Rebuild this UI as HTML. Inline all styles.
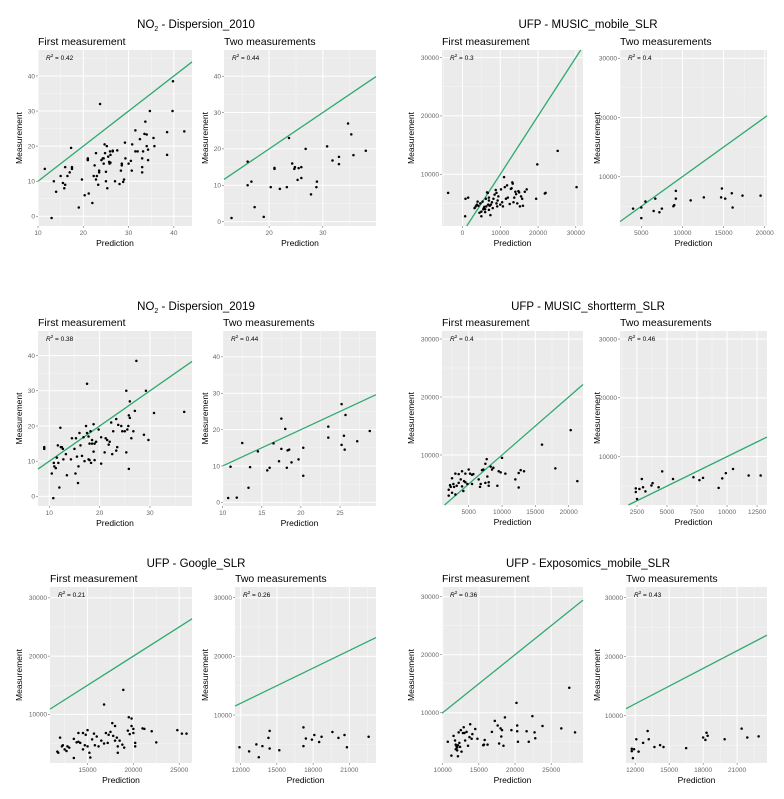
<!DOCTYPE html>
<html><head><meta charset="utf-8"><style>
html,body{margin:0;padding:0;background:#fff;}
svg{display:block;font-family:"Liberation Sans",sans-serif;}
</style></head><body>
<svg id="fig" width="784" height="799" viewBox="0 0 784 799" xmlns="http://www.w3.org/2000/svg">
<text x="196" y="28" text-anchor="middle" font-size="11.5" fill="#000">NO<tspan font-size="7" dy="3">2</tspan><tspan dy="-3"> - Dispersion_2010</tspan></text>
<text x="588" y="28" text-anchor="middle" font-size="11.5" fill="#000">UFP - MUSIC_mobile_SLR</text>
<text x="196" y="310" text-anchor="middle" font-size="11.5" fill="#000">NO<tspan font-size="7" dy="3">2</tspan><tspan dy="-3"> - Dispersion_2019</tspan></text>
<text x="588" y="310" text-anchor="middle" font-size="11.5" fill="#000">UFP - MUSIC_shortterm_SLR</text>
<text x="196" y="567" text-anchor="middle" font-size="11.5" fill="#000">UFP - Google_SLR</text>
<text x="588" y="567" text-anchor="middle" font-size="11.5" fill="#000">UFP - Exposomics_mobile_SLR</text>
</svg>
<script>
const A1x=[11.5,13,13.5,14,15,15.5,15.8,16,16,16.5,17,17.3,17.5,17.5,19,19.7,20.3,21,21,21.2,22,22.3,22.5,22.8,22.8,23,23.3,23.5,23.5,23.7,24,24.3,24.5,24.7,24.8,25,25,25.2,25.3,25.5,25.7,25.8,25.9,26,26,26.5,27,27.5,28,28.3,28.5,28.5,28.8,29,29.2,29.3,30,30.5,30.7,30.8,31.5,31.5,32,32.5,33,33,33.2,33.5,33.7,34,34,34.3,34.3,34.7,35.5,35.7,38.5,38.5,39.7,39.8,42.3,33,26.5,24.5,21];
const A1y=[13.5,-0.5,10,7,11.5,9.5,8,9,14,11.5,12.5,19.5,14,13.5,2.5,10.5,6,16.5,16,6.5,3.8,11.5,14.5,18,10.5,11.5,9,13,12.5,32,16,16.5,15,20.5,18,10,12.7,20,8,17,15.5,15,18.5,15.3,17.5,18.5,10,18.8,9.2,13,15,14.5,9.8,10.5,21,16.5,15,15.8,13,20.5,24.5,18.5,18.5,22,12.5,14,18.5,23.5,27,23.3,20,16,19,30,22.3,20,24,17.5,30,38.5,24.2,16.5,18.7,16.5,16.2];
const A2x=[13,16,16,16.7,17.3,19,20.3,21,21,22,23.3,23.7,24.3,24.7,24.8,25.3,25.5,26,26,26.8,27.8,28.8,28.9,30.8,31.8,33,33,34.7,35.3,35.7,38];
const A2y=[1,10,16.5,11,4,1.3,9.5,14.5,14.8,9,9.5,23,16,14.5,15,11.5,14.7,15,12,20,7.5,9.5,11,20.7,16.8,17.8,15.8,27,24,18.3,19.5];
const B1x=[-3800,800,1500,700,25200,19800,30200,22000,21800,19500,3200,3500,3800,4000,4200,4500,4700,5000,5000,5300,5500,5800,6000,6200,6300,6500,6700,6800,7000,7000,7200,7400,7500,7800,8000,8200,8500,8800,9000,9000,9200,9300,9500,10000,10200,10500,10700,11000,11200,11500,11800,12000,12500,12800,13000,13200,13300,13500,13700,14000,14200,14500,14800,15000,15200,15500,15800,16000,16500,17000,7000,6000,5700];
const B1y=[6800,5800,6000,2800,14000,11700,7800,6800,6700,5800,4200,4500,4800,5300,4600,3400,5000,2800,3600,5300,4000,4400,3500,5800,4500,6900,6800,4800,3900,5500,4600,3000,4800,5200,4200,5800,6500,7300,5000,6800,4500,5500,6200,4800,7400,5200,4500,9500,7800,5800,8100,6000,4900,7500,7600,8600,8400,5200,6000,7000,6600,5000,7100,6900,4500,6200,5800,4600,7000,7400,6000,4000,4300];
const B2x=[4000,5000,5000,5500,6700,6500,7200,7500,8900,9000,9200,9200,11000,12600,14700,14800,15200,16000,16100,17300,19500];
const B2y=[4600,4800,3000,5800,6300,4200,4000,4600,5000,5200,6300,7600,6000,6500,6500,8000,6300,7200,4800,6800,6800];
const C1x=[9,9,10.5,10.8,10.9,11,11.3,11.5,11.7,11.8,12,12.2,12.3,12.5,12.7,12.8,13.3,13.5,14.3,14.5,15,15.2,15.3,15.5,15.7,15.8,16,16.2,16.5,16.8,17,17.3,17.5,17.5,17.8,17.8,18,18,18.2,18.3,18.5,18.5,18.8,18.8,19,19,19.3,19.8,20.3,20.3,21,21.2,21.5,21.8,22,22.3,22.5,22.7,23.3,23.3,23.5,23.7,24.3,24.5,25,25.3,25.3,25.5,25.7,25.8,25.8,26,26,26.3,26.7,27,27.3,28.8,29.2,29.7,30.8,36.8];
const C1y=[13.5,14,6.5,-0.5,9.5,8.5,8,11,14.5,9.5,2.5,19.5,14,14,13.5,10.5,12,6,10.5,16.5,13.5,6.5,16.5,11.3,3.8,8.5,18,14.5,11.5,16.8,10,20,32,18,10.5,17,15,10.3,18.5,9.5,16,15,20.5,12.7,15,10.3,15.5,19,9.3,16.8,12.5,16.5,16,14.7,15.5,21,12,18.5,13,22,14,20.3,20,18.5,18.5,30,12.5,19,20,7.8,23,22.3,27,16.5,18.5,24.3,38.5,17.5,30,16,23.7,24];
const C2x=[10.7,11,11.8,12.5,13.3,13.5,14.5,15.7,16,16.5,17.2,17.5,17.5,18,18.2,18.3,18.5,18.8,19.7,20.3,20.3,23.5,23.5,25.2,25.2,25.5,25.6,25.7,27.2,28.8];
const C2y=[1.2,9.8,1.3,16.3,4,9.7,14,8.8,9.5,16.2,11.3,23,14.7,20.2,9.5,14.3,14.5,11,11.8,15,7.3,20.8,17.8,27,15.8,18.3,14.5,24,16.8,19.6];
const D1x=[2000,2000,2200,2300,2500,2500,2700,2800,3000,3000,3200,3500,3500,3800,4000,4000,4200,4300,4500,4500,4800,5000,5200,5500,5500,5700,6500,6700,6800,7000,7200,7500,7700,7800,8000,8000,8300,8500,8700,9300,9500,9800,10000,10500,12000,12500,12500,12800,13300,16000,18000,20300,21300,7500];
const D1y=[4000,3000,4800,4500,3500,6000,5000,4500,6800,3200,4700,5200,6700,5800,4600,7200,3800,5500,6800,5300,5000,7500,6800,6600,5000,6700,5800,4500,5000,7400,7500,8500,9300,6300,5300,4700,8000,7500,7800,4700,7200,7000,9500,6800,5800,4400,6900,7400,7200,11800,7700,14300,5500,5200];
const D2x=[2400,2400,2500,2700,2900,3000,3200,3700,3800,4300,4600,5500,7200,7700,8000,9300,9600,9900,10500,11800,12800];
const D2y=[4600,4000,2800,4500,6200,4800,4100,5100,5500,4800,7500,6200,6500,6000,6400,4700,6300,7200,7900,6800,6800];
const E1x=[11700,11800,12000,12200,12300,12500,12700,13000,13500,13500,13800,14000,14200,14500,14500,14700,14800,15000,15000,15200,15300,15500,15700,15800,16000,16200,16500,16800,16800,17000,17200,17300,17500,17700,17800,18000,18000,18200,18300,18300,18500,18800,18900,19000,19400,19500,19600,19800,19800,20000,20000,20200,20200,21000,21200,22000,22500,24800,25300,25800,14000,12800];
const E1y=[3600,3400,6000,4500,4700,4000,3700,4300,5800,2500,5200,5300,5100,4000,6800,4700,6500,7300,4500,3400,2600,5700,6700,4700,6200,4500,5500,11700,5000,6800,5100,6500,7000,8500,6300,8000,5500,6000,4500,3400,5500,4800,14200,4300,7200,9500,6600,8000,9300,7500,6800,4500,5100,7600,7500,7100,5200,7300,6700,6700,6800,4500];
const E2x=[11900,12700,13300,13500,13800,14300,14400,14400,15200,17200,17200,17400,17900,18100,18500,18700,19600,20100,20600,20800,22600];
const E2y=[4500,3800,5000,2800,4700,6100,7300,4300,4000,7900,4700,6000,5800,6600,5400,6300,7100,6100,6600,4500,6300];
const F1x=[10700,11200,11500,11700,11800,11900,12000,12000,12100,12200,12300,12400,12500,12600,12800,12900,13000,13100,13300,13500,13700,13800,14000,14100,14500,14800,15600,15700,15800,16200,16800,17200,17600,17800,18000,18100,18200,18400,18600,19500,20200,20300,20300,20400,21600,21900,22400,22700,22800,23800,26400,27500,28300,12100,11800];
const F1y=[5000,2600,6000,5200,4500,4200,3500,4000,2500,6600,4800,4100,7000,3300,6500,7500,6500,5200,6700,4300,5800,8000,5500,6300,7200,5500,4400,4500,5300,4500,6700,8600,7800,4700,7300,5900,7000,4300,9200,7000,11700,7800,6800,5000,6800,5000,9400,6600,5600,7700,7300,14300,6600,4400,3700];
const F2x=[11700,11700,11800,11900,12100,12300,12700,13100,13200,13700,14200,14500,16500,18000,18200,18300,18400,19900,21400,21900,22900];
const F2y=[4400,4000,2800,4300,6000,3900,5400,7400,6000,4700,5000,4700,4500,6300,5900,7100,6600,6000,7800,6300,6500];
const R2labels=["0.42","0.44","0.3","0.4","0.38","0.44","0.4","0.46","0.21","0.26","0.36","0.43"];
const xTicksA1=[10,20,30,40], xTicksA2=[20,30], yTicksNO2=[0,10,20,30,40];
const xTicksB1=[0,10000,20000,30000], xTicksB2=[5000,10000,15000,20000], yTicksUFP=[10000,20000,30000];
const xTicksC1=[10,20,30], xTicksC2=[10,15,20,25];
const xTicksD1=[5000,10000,15000,20000], xTicksD2=[2500,5000,7500,10000,12500];
const xTicksE1=[15000,20000,25000], xTicksE2=[12000,15000,18000,21000];
const xTicksF1=[10000,15000,20000,25000], xTicksF2=[12000,15000,18000,21000];

const NS="http://www.w3.org/2000/svg";
const svg=document.getElementById('fig');
function mk(tag,attrs,parent){const e=document.createElementNS(NS,tag);for(const k in attrs)e.setAttribute(k,attrs[k]);(parent||svg).appendChild(e);return e;}
const panels=[
 {id:'no2-2010-first',sub:'First measurement',box:[38,50,192,226],xd:[10,44],yd:[-2.77,47.4],xs:xTicksA1,ys:yTicksNO2,px:A1x,py:A1y,r:0,yl:19},
 {id:'no2-2010-two',sub:'Two measurements',box:[224,50,376,226],xd:[11.6,39.9],yd:[-1.2,47.2],xs:xTicksA2,ys:yTicksNO2,px:A2x,py:A2y,r:1,yl:205},
 {id:'music-mobile-first',sub:'First measurement',box:[442,50,583,226],xd:[-5420,31900],yd:[1130,31300],xs:xTicksB1,ys:yTicksUFP,px:B1x,py:B1y,r:2,yl:411},
 {id:'music-mobile-two',sub:'Two measurements',box:[620,50,767,226],xd:[2410,20280],yd:[1670,31400],xs:xTicksB2,ys:yTicksUFP,px:B2x,py:B2y,r:3,yl:597},
 {id:'no2-2019-first',sub:'First measurement',box:[38,331,192,506],xd:[7.76,38.35],yd:[-2.75,47],xs:xTicksC1,ys:yTicksNO2,px:C1x,py:C1y,r:4,yl:19},
 {id:'no2-2019-two',sub:'Two measurements',box:[223,331,376,506],xd:[10.04,29.6],yd:[-1,47.1],xs:xTicksC2,ys:yTicksNO2,px:C2x,py:C2y,r:5,yl:205},
 {id:'music-shortterm-first',sub:'First measurement',box:[442,331,583,505],xd:[995,22150],yd:[1380,31380],xs:xTicksD1,ys:yTicksUFP,px:D1x,py:D1y,r:6,yl:411},
 {id:'music-shortterm-two',sub:'Two measurements',box:[620,331,767,505],xd:[1083,13330],yd:[1780,31360],xs:xTicksD2,ys:yTicksUFP,px:D2x,py:D2y,r:7,yl:597},
 {id:'google-first',sub:'First measurement',box:[50,587,192,763],xd:[10900,26400],yd:[1650,31870],xs:xTicksE1,ys:yTicksUFP,px:E1x,py:E1y,r:8,yl:19},
 {id:'google-two',sub:'Two measurements',box:[235,587,376,763],xd:[11530,23210],yd:[1820,31830],xs:xTicksE2,ys:yTicksUFP,px:E2x,py:E2y,r:9,yl:205},
 {id:'exposomics-first',sub:'First measurement',box:[442,587,583,763],xd:[9900,29400],yd:[1330,31670],xs:xTicksF1,ys:yTicksUFP,px:F1x,py:F1y,r:10,yl:411},
 {id:'exposomics-two',sub:'Two measurements',box:[626,587,767,763],xd:[11190,23640],yd:[1980,31800],xs:xTicksF2,ys:yTicksUFP,px:F2x,py:F2y,r:11,yl:597}
];
panels.forEach(p=>{
 const [x0,y0,x1,y1]=p.box;
 const sx=v=>x0+(v-p.xd[0])/(p.xd[1]-p.xd[0])*(x1-x0);
 const sy=v=>y1-(v-p.yd[0])/(p.yd[1]-p.yd[0])*(y1-y0);
 const g=mk('g',{});
 
 
 const bg=mk('rect',{x:x0,y:y0,width:x1-x0,height:y1-y0,fill:'#ebebeb'},g);
 
 
 const st=mk('text',{x:x0,y:y0-5,'font-size':'10.5',fill:'#000'},g);
 st.textContent=p.sub;
 
 
 const xstep=p.xs.length>1?p.xs[1]-p.xs[0]:10;
 const ystep=p.ys[1]-p.ys[0];
 for(let v=p.xs[0]-xstep*3+xstep/2;v<p.xd[1];v+=xstep){if(v>p.xd[0]){const l=mk('line',{x1:sx(v),x2:sx(v),y1:y0,y2:y1,stroke:'#f7f7f7','stroke-width':0.5},g);}}
 for(let v=p.ys[0]-ystep*3+ystep/2;v<p.yd[1];v+=ystep){if(v>p.yd[0]){const l=mk('line',{x1:x0,x2:x1,y1:sy(v),y2:sy(v),stroke:'#f7f7f7','stroke-width':0.5},g);}}
 p.xs.forEach(v=>{
  const l=mk('line',{x1:sx(v),x2:sx(v),y1:y0,y2:y1,stroke:'#fff','stroke-width':1},g);
  
  
  mk('line',{x1:sx(v),x2:sx(v),y1:y1,y2:y1+2,stroke:'#555','stroke-width':0.5},g);
  const t=mk('text',{x:sx(v),y:y1+9,'font-size':'6.5','text-anchor':'middle',fill:'#666'},g);
  t.textContent=String(v);
  
  
 });
 p.ys.forEach(v=>{
  const l=mk('line',{x1:x0,x2:x1,y1:sy(v),y2:sy(v),stroke:'#fff','stroke-width':1},g);
  
  
  mk('line',{x1:x0-2,x2:x0,y1:sy(v),y2:sy(v),stroke:'#555','stroke-width':0.5},g);
  const t=mk('text',{x:x0-3,y:sy(v)+2.3,'font-size':'6.5','text-anchor':'end',fill:'#666'},g);
  t.textContent=String(v);
  
  
 });
 const xt=mk('text',{x:(x0+x1)/2,y:y1+20,'font-size':'8.5','text-anchor':'middle',fill:'#000'},g);
 xt.textContent='Prediction';
 
 
 const yt=mk('text',{x:p.yl+3,y:(y0+y1)/2,'font-size':'8.5','text-anchor':'middle',fill:'#000',transform:`rotate(-90 ${p.yl+3} ${(y0+y1)/2})`},g);
 yt.textContent='Measurement';
 
 
 const lo=Math.max(p.xd[0],p.yd[0]), hi=Math.min(p.xd[1],p.yd[1]);
 const ln=mk('line',{x1:sx(lo),y1:sy(lo),x2:sx(hi),y2:sy(hi),stroke:'#2eaa6e','stroke-width':1.3},g);
 
 
 p.px.forEach((xv,i)=>{
  const c=mk('circle',{cx:sx(xv),cy:sy(p.py[i]),r:1.25,fill:'#000'},g);
  
  
 });
 const rt=mk('text',{x:x0+8,y:y0+10,'font-size':'6.5',fill:'#000'},g);
 rt.innerHTML='<tspan font-style="italic">R</tspan><tspan font-size="4.5" dy="-3">2</tspan><tspan dy="3"> = '+R2labels[p.r]+'</tspan>';
 
 
});
</script>
</body></html>
